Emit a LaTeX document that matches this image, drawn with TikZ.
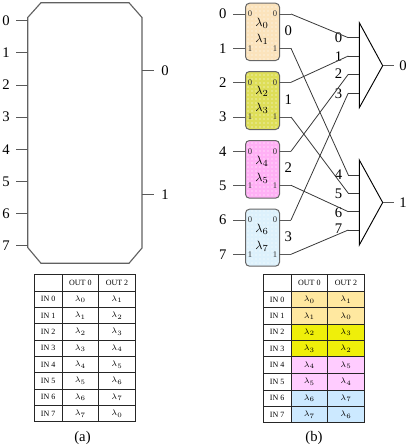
\documentclass[tikz,border=0pt]{standalone}
\usepackage{fontspec}
\setmainfont{Liberation Serif}
\usetikzlibrary{patterns}
\definecolor{cA}{HTML}{FBE3BC}
\definecolor{cB}{HTML}{DEDE58}
\definecolor{cC}{HTML}{FFB0F5}
\definecolor{cD}{HTML}{DDF1FC}
\definecolor{tA}{HTML}{FFE8A0}
\definecolor{tB}{HTML}{EFEF0A}
\definecolor{tC}{HTML}{FFCCFF}
\definecolor{tD}{HTML}{CCE9FF}
\tikzset{
  wire/.style={draw=black!78,line width=0.6pt},
  stub/.style={draw=black!65,line width=0.7pt},
  lab/.style={font=\fontsize{11}{12}\selectfont,inner sep=0pt,text=black},
  tiny/.style={font=\fontsize{6.5}{7}\selectfont,inner sep=0pt,text=black!80},
  lam/.style={font=\fontsize{9.5}{11}\selectfont,inner sep=0pt,text=black},
  cell/.style={font=\fontsize{6}{7}\selectfont,inner sep=0pt,text=black},
  tline/.style={draw=black!85,line width=0.75pt},
  wbox/.style={draw=black!60,line width=0.75pt,rounded corners=3pt,minimum width=25.5pt,inner sep=0pt},
  mux/.style={draw=black,line width=0.7pt,line join=miter}
}
\begin{document}
\begin{tikzpicture}[x=0.75pt,y=-0.75pt]
\useasboundingbox (0,0) rectangle (407,447);
% (a) block
\draw[draw=black!62,line width=0.85pt] (27.7,17.5) -- (41,2.7) -- (129,2.7) -- (142,17.5) -- (142,248) -- (129,263.3) -- (41,263.3) -- (27.7,247.5) -- cycle;
\foreach \n/\y in {0/20.7,1/52.7,2/85,3/117,4/149.3,5/181.3,6/213.3,7/245.3}{
  \coordinate (ae\n) at (27.7,\y);
  \node[lab] (al\n) at (6,\y) {\n};
  \coordinate (as\n) at (16,\y);
  \draw[stub] (as\n) -- (ae\n);
}
\foreach \n/\y in {0/70.7,1/194.7}{
  \coordinate (ao\n) at (142,\y);
  \coordinate (aq\n) at (154,\y);
  \node[lab] (am\n) at (165,\y) {\n};
  \draw[stub] (ao\n) -- (aq\n);
}
% (b) boxes
\foreach \b/\c/\y/\h in {0/cA/2.7/57.3,1/cB/71/58,2/cC/140/57.7,3/cD/208.7/57}{
  \node[wbox,minimum height=\h*0.75pt,anchor=north west,preaction={fill=\c},pattern=dots,pattern color=white] (box\b) at (245,\y) {};
}
% inputs and outputs
\foreach \n/\y/\b/\p in {0/14/0/0,1/48.3/0/1,2/82.3/1/0,3/117/1/1,4/151.3/2/0,5/185.3/2/1,6/220/3/0,7/254.3/3/1}{
  \node[lab] (bl\n) at (222.7,\y) {\n};
  \coordinate (bs\n) at (233,\y);
  \coordinate (bi\n) at (245,\y);
  \coordinate (bo\n) at (279,\y);
  \coordinate (bk\n) at (291,\y);
  \node[tiny] (pi\n) at (250,\y) {\p};
  \node[tiny] (po\n) at (275,\y) {\p};
  \draw[stub] (bs\n) -- (bi\n);
  \draw[stub] (bo\n) -- (bk\n);
}
\foreach \n/\x/\y in {0/262/23.5,1/262/39.5,2/262/91,3/262/108,4/262/161,5/262/178,6/262/229.5,7/262/246.5}{
  \node[lam] (lam\n) at (\x,\y) {$\lambda_{\n}$};
}
\foreach \n/\y in {0/31,1/100,2/167.7,3/236.7}{
  \node[lab] (bn\n) at (288.3,\y) {\n};
}
% muxes
\coordinate (mA1) at (359.3,22.7); \coordinate (mA2) at (382.7,65.7); \coordinate (mA3) at (359.3,107.7);
\coordinate (mB1) at (359.3,160); \coordinate (mB2) at (382.7,202.5); \coordinate (mB3) at (359.3,245);
\draw[mux] (mA1) -- (mA2) -- (mA3) -- cycle;
\draw[mux] (mB1) -- (mB2) -- (mB3) -- cycle;
\coordinate (mAq) at (394,65.7); \coordinate (mBq) at (394,202.5);
\draw[stub] (mA2) -- (mAq);
\draw[stub] (mB2) -- (mBq);
\node[lab] (mAl) at (403,65.7) {0};
\node[lab] (mBl) at (403,202.5) {1};
\foreach \n/\y/\ly in {0/37.7/38,1/56/56.7,2/74.3/74,3/93/94,4/175/175,5/193.3/194,6/211.7/213,7/230/229}{
  \coordinate (me\n) at (359.3,\y);
  \coordinate (mk\n) at (348.3,\y);
  \node[lab] (mt\n) at (338.5,\ly) {\n};
  \draw[wire] (mk\n) -- (me\n);
}
\draw[wire] (bk0) -- (mk0);
\draw[wire] (bk1) -- (mk4);
\draw[wire] (bk2) -- (mk1);
\draw[wire] (bk3) -- (mk5);
\draw[wire] (bk4) -- (mk2);
\draw[wire] (bk5) -- (mk6);
\draw[wire] (bk6) -- (mk3);
\draw[wire] (bk7) -- (mk7);
% table a
\foreach \r/\y/\la/\lb in {1/299.2/0/1,2/315.5/1/2,3/331.8/2/3,4/348.2/3/4,5/364.5/4/5,6/380.8/5/6,7/397.2/6/7,8/413.5/7/0}{
  \pgfmathtruncatemacro{\k}{\r-1}
  \node[cell] (aI\r) at (48.2,\y) {IN \k};
  \node[cell] (aP\r) at (80.3,\y) {$\lambda_{\la}$};
  \node[cell] (aQ\r) at (117,\y) {$\lambda_{\lb}$};
}
\node[cell] (aH1) at (80.3,282.7) {OUT 0};
\node[cell] (aH2) at (117,282.7) {OUT 2};
\foreach \y in {274.3,291,307.3,323.7,340,356.3,372.7,389,405.3,421.7}{\draw[tline] (34.3,\y) -- (135.3,\y);}
\foreach \x in {34.3,62,98.7,135.3}{\draw[tline] (\x,274.3) -- (\x,421.7);}
\node[lab] (capa) at (82.5,438) {(a)};
% table b
\fill[tA] (291,291) rectangle (364.3,324);
\fill[tB] (291,324) rectangle (364.3,356.7);
\fill[tC] (291,356.7) rectangle (364.3,390);
\fill[tD] (291,390) rectangle (364.3,422.7);
\foreach \r/\y/\la/\lb in {1/299.5/0/1,2/316/1/0,3/332.3/2/3,4/348.5/3/2,5/365/4/5,6/381.5/5/4,7/398/6/7,8/414.5/7/6}{
  \pgfmathtruncatemacro{\k}{\r-1}
  \node[cell] (bI\r) at (277.2,\y) {IN \k};
  \node[cell] (bP\r) at (309.3,\y) {$\lambda_{\la}$};
  \node[cell] (bQ\r) at (346,\y) {$\lambda_{\lb}$};
}
\node[cell] (bH1) at (309.3,282.7) {OUT 0};
\node[cell] (bH2) at (346,282.7) {OUT 2};
\foreach \y in {274.3,291,307.7,324,340.3,356.7,373.3,390,406.3,422.7}{\draw[tline] (263.3,\y) -- (364.3,\y);}
\foreach \x in {263.3,291,327.7,364.3}{\draw[tline] (\x,274.3) -- (\x,422.7);}
\node[lab] (capb) at (314,438) {(b)};
\end{tikzpicture}
\end{document}
